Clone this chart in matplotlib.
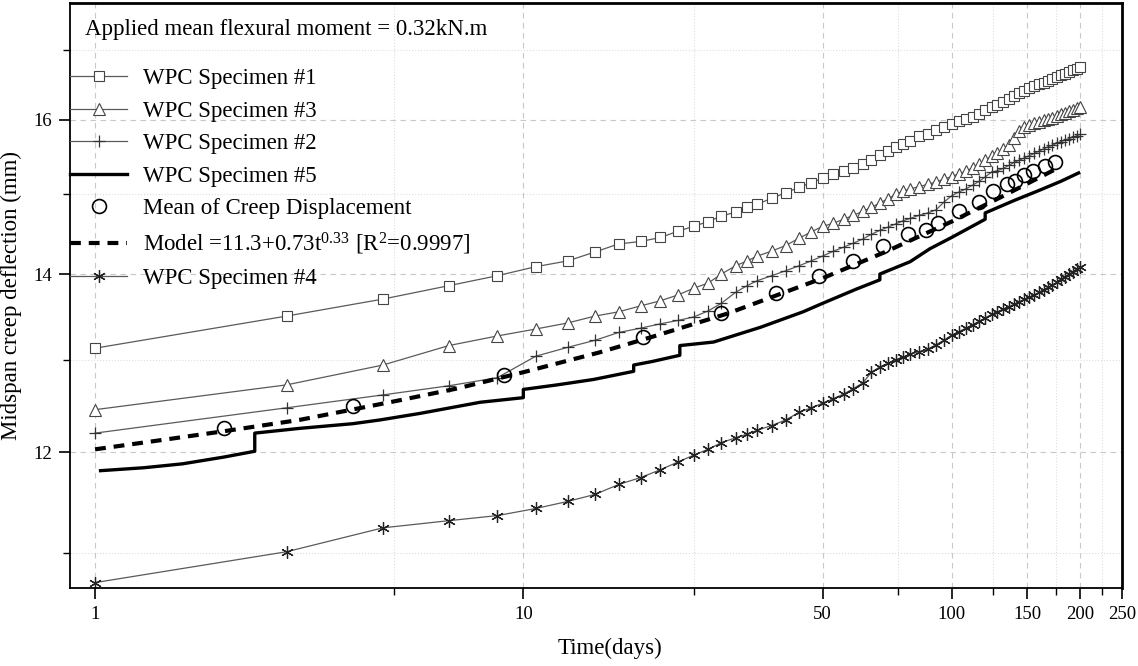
import numpy as np
import matplotlib
matplotlib.use("Agg")
import matplotlib.pyplot as plt
from matplotlib.ticker import NullFormatter

plt.rcParams['font.family'] = ['Liberation Serif', 'DejaVu Serif']
plt.rcParams['mathtext.fontset'] = 'custom'
plt.rcParams['mathtext.rm'] = 'Liberation Serif'
plt.rcParams['mathtext.it'] = 'Liberation Serif:italic'

# time of readings (days)
days = [1, 2.8, 4.7, 6.7, 8.7, 10.7, 12.7, 14.7, 16.7, 18.8, 20.9, 23, 25, 27, 29, 31.3, 33.3, 35.2,
        38, 41, 44, 47, 50, 53, 56, 59, 62, 65, 68, 71, 74, 77, 80,
        84, 88, 92, 96, 100, 104, 108, 112, 116, 120, 124, 128, 132, 136, 140, 144, 148,
        152, 156, 160, 164, 168, 172, 176, 180, 184, 188, 192, 196, 200]

spec1 = [13.13, 13.50, 13.70, 13.86, 13.98, 14.09, 14.16, 14.27, 14.37, 14.40, 14.45, 14.53, 14.59, 14.65, 14.72, 14.77, 14.83, 14.87,
         14.95, 15.02, 15.09, 15.15, 15.21, 15.26, 15.30, 15.35, 15.40, 15.45, 15.52, 15.57, 15.62, 15.67, 15.71,
         15.77, 15.81, 15.86, 15.90, 15.94, 15.98, 16.01, 16.04, 16.08, 16.13, 16.17, 16.21, 16.25, 16.29, 16.33, 16.37, 16.40,
         16.44, 16.47, 16.50, 16.52, 16.55, 16.57, 16.60, 16.63, 16.65, 16.68, 16.70, 16.72, 16.74]

spec3 = [12.45, 12.72, 12.94, 13.16, 13.27, 13.35, 13.42, 13.50, 13.55, 13.62, 13.68, 13.75, 13.83, 13.89, 14.00, 14.10, 14.16, 14.22,
         14.28, 14.35, 14.44, 14.52, 14.59, 14.63, 14.68, 14.73, 14.78, 14.83, 14.89, 14.94, 15.00, 15.04, 15.07,
         15.10, 15.13, 15.16, 15.20, 15.23, 15.27, 15.30, 15.35, 15.40, 15.45, 15.50, 15.55, 15.60, 15.66, 15.75, 15.84, 15.90,
         15.93, 15.95, 15.97, 15.99, 16.01, 16.03, 16.05, 16.08, 16.10, 16.12, 16.14, 16.16, 16.18]

spec2 = [12.20, 12.47, 12.61, 12.71, 12.80, 13.04, 13.14, 13.22, 13.31, 13.36, 13.41, 13.45, 13.49, 13.56, 13.65, 13.78, 13.86, 13.92,
         13.98, 14.04, 14.10, 14.16, 14.22, 14.28, 14.33, 14.38, 14.43, 14.49, 14.54, 14.58, 14.62, 14.66, 14.69,
         14.73, 14.76, 14.80, 14.90, 14.98, 15.03, 15.07, 15.12, 15.17, 15.23, 15.29, 15.31, 15.34, 15.38, 15.42, 15.45, 15.48,
         15.51, 15.54, 15.57, 15.60, 15.63, 15.65, 15.68, 15.70, 15.72, 15.74, 15.76, 15.78, 15.80]

spec4 = [10.72, 11.01, 11.24, 11.31, 11.36, 11.43, 11.50, 11.57, 11.67, 11.74, 11.82, 11.90, 11.97, 12.03, 12.10, 12.15, 12.19, 12.23,
         12.28, 12.34, 12.42, 12.47, 12.52, 12.57, 12.62, 12.68, 12.74, 12.86, 12.92, 12.96, 13.00, 13.03, 13.06,
         13.09, 13.12, 13.17, 13.22, 13.28, 13.32, 13.36, 13.40, 13.44, 13.48, 13.52, 13.55, 13.58, 13.61, 13.64, 13.67, 13.70,
         13.72, 13.75, 13.78, 13.81, 13.84, 13.87, 13.90, 13.94, 13.97, 14.00, 14.03, 14.06, 14.09]

# specimen 5 (stepped trace, no markers)
days5 = [1.03, 1.3, 1.6, 2.0, 2.36, 2.36, 3.0, 4.0, 4.63, 5.74, 7.93, 10.0, 10.0, 12.0, 14.6, 18.1, 18.1, 20.0, 23.2, 23.2,
         27.8, 35.8, 45, 50, 60, 68, 68, 80, 89, 100, 119.8, 119.8, 140, 160, 180, 198]
spec5 = [11.81, 11.84, 11.88, 11.95, 12.01, 12.20, 12.25, 12.30, 12.34, 12.41, 12.53, 12.58, 12.67, 12.72, 12.78, 12.87, 12.94, 12.98, 13.05, 13.16,
         13.20, 13.37, 13.55, 13.65, 13.82, 13.93, 14.00, 14.15, 14.31, 14.45, 14.68, 14.76, 14.92, 15.05, 15.17, 15.28]

mean_days = [2, 4, 9, 19, 29, 39, 49, 59, 69, 79, 87, 93, 104, 116, 125, 135, 141, 148, 155, 165, 174]
mean_vals = [12.25, 12.49, 12.83, 13.26, 13.54, 13.77, 13.98, 14.16, 14.35, 14.49, 14.55, 14.63, 14.78, 14.90, 15.04, 15.13, 15.18, 15.25, 15.30, 15.37, 15.43]

model_days = [1, 1.5, 2, 3, 5, 7, 10, 15, 20, 30, 50, 70, 100, 130, 175]
model_vals = [12.03, 12.14, 12.22, 12.34, 12.54, 12.68, 12.86, 13.08, 13.26, 13.53, 13.95, 14.27, 14.65, 14.96, 15.33]

fig = plt.figure(figsize=(11.38, 6.66), dpi=100)
ax = fig.add_axes([70 / 1138, 78 / 666, 1052 / 1138, 585 / 666])

gray = '#5a5a5a'
ax.plot(days, spec1, color=gray, lw=0.9, marker='s', ms=6.5, mfc='white', mec='#444444', mew=0.8, label='WPC Specimen #1')
ax.plot(days, spec3, color=gray, lw=0.9, marker='^', ms=9, mfc='white', mec='#444444', mew=0.8, label='WPC Specimen #3')
ax.plot(days, spec2, color=gray, lw=0.9, marker='+', ms=9, mec='#333333', mew=0.9, label='WPC Specimen #2')
ax.plot(days5, spec5, color='black', lw=2.4, label='WPC Specimen #5')
ax.plot(mean_days, mean_vals, ls='none', marker='o', ms=10, mfc='none', mec='black', mew=1.2,
        label='Mean of Creep Displacement')
ax.plot(model_days, model_vals, color='black', lw=3, dashes=(2.6, 1.9),
        label='Model =11.3+0.73t$^{0.33}$ [R$^{2}$=0.9997]')
ax.plot(days, spec4, color=gray, lw=0.9, marker=(6, 2, 0), ms=9, mec='#222222', mew=0.9, label='WPC Specimen #4')

ax.set_xscale('log')
ax.set_yscale('log')
ax.set_xlim(0.874, 250)
ax.set_ylim(10.67, 17.7)

ax.set_xticks([1, 10, 50, 100, 150, 200, 250])
ax.set_xticklabels(['1', '10', '50', '100', '150', '200', '250'])
ax.set_xticks([5, 25, 75, 125, 175, 225], minor=True)
ax.xaxis.set_minor_formatter(NullFormatter())
ax.set_yticks([12, 14, 16])
ax.set_yticklabels(['12', '14', '16'])
ax.set_yticks([11, 13, 15, 17], minor=True)
ax.yaxis.set_minor_formatter(NullFormatter())

ax.tick_params(which='major', direction='out', length=8, width=1.2, labelsize=13.5, pad=5)
ax.tick_params(which='minor', direction='out', length=5, width=1.0)
for s in ax.spines.values():
    s.set_linewidth(1.3)
ax.spines['top'].set_linewidth(2)
ax.spines['right'].set_linewidth(2)

ax.grid(which='major', ls=(0, (5, 4)), color='#c8c8c8', lw=0.8)
ax.grid(which='minor', ls=':', color='#dedede', lw=0.8)
ax.set_axisbelow(True)

ax.set_xlabel('Time(days)', fontsize=16.5, labelpad=14)
ax.xaxis.set_label_coords(0.513, -0.085)
ax.set_ylabel('Midspan creep deflection (mm)', fontsize=16.5, labelpad=8)

ax.text(15 / 1052, 1 - 27 / 585, 'Applied mean flexural moment = 0.32kN.m', transform=ax.transAxes,
        fontsize=16.5, va='center', ha='left')
ax.legend(loc='upper left', bbox_to_anchor=(0, 1 - 65 / 585), frameon=False, fontsize=16.5,
          borderpad=0, borderaxespad=0, handlelength=2.5, handletextpad=0.7, labelspacing=0.5)

fig.savefig('out.png', dpi=100)
